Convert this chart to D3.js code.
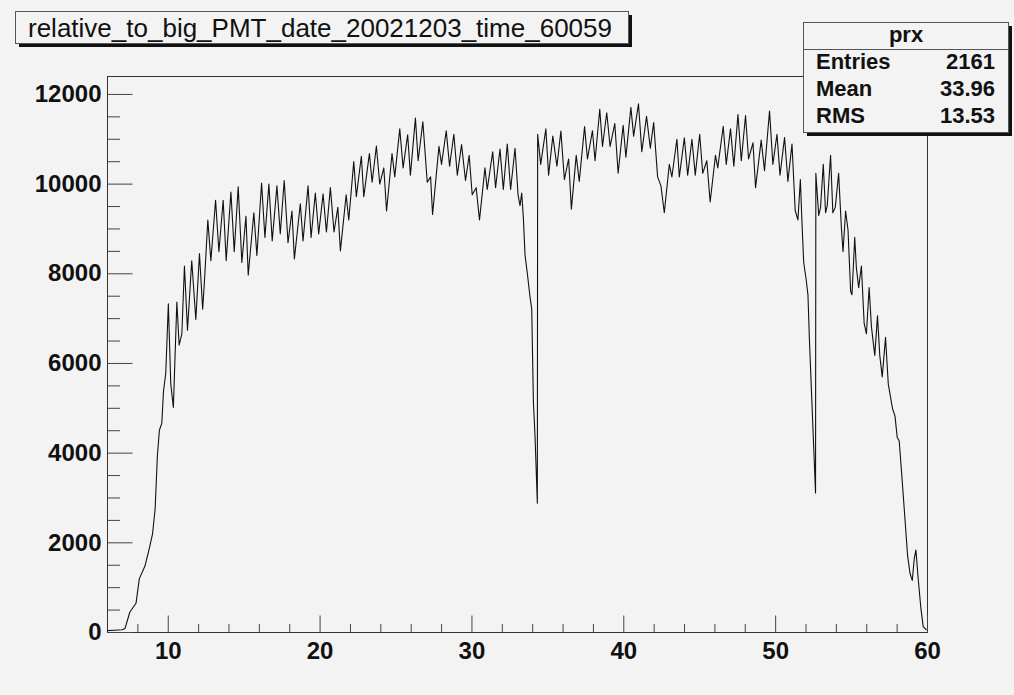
<!DOCTYPE html>
<html>
<head>
<meta charset="utf-8">
<script src="https://cdn.jsdelivr.net/npm/d3@7"></script>
<style>
  body { margin: 0; background: #f3f3f3; }
  svg { display: block; font-family: "Liberation Sans", Arial, sans-serif; }
</style>
</head>
<body>
<svg id="mainSvg" width="1014" height="695"></svg>
<script>
// histogram outline (bin centre, content)
var binX = [6.0, 6.5, 7.0, 7.19, 7.5, 7.91, 8.13, 8.5, 8.79, 9.0, 9.17, 9.32, 9.45, 9.61, 9.72, 9.87,
  10.04, 10.2, 10.37, 10.6, 10.75, 10.93, 11.1, 11.3, 11.58, 11.85, 12.09, 12.3, 12.42, 12.64, 12.84,
  13.15, 13.37, 13.65, 13.85, 14.16, 14.38, 14.64, 14.88, 15.15, 15.3, 15.67, 15.87, 16.18, 16.4,
  16.66, 16.88, 17.19, 17.41, 17.67, 17.92, 18.18, 18.34, 18.73, 18.91, 19.24, 19.44, 19.72, 19.94,
  20.23, 20.45, 20.71, 20.95, 21.2, 21.37, 21.75, 21.92, 22.25, 22.42, 22.75, 22.91, 23.28, 23.46,
  23.74, 23.96, 24.23, 24.41, 24.77, 24.95, 25.28, 25.5, 25.8, 25.98, 26.31, 26.49, 26.8, 27.09,
  27.31, 27.44, 27.86, 28.03, 28.34, 28.56, 28.84, 29.07, 29.35, 29.61, 29.85, 30.05, 30.31, 30.53,
  30.89, 31.04, 31.4, 31.59, 31.88, 32.1, 32.36, 32.58, 32.87, 33.07, 33.2, 33.31, 33.42, 33.53,
  33.68, 33.84, 33.97, 34.08, 34.19, 34.34, 34.36, 34.56, 34.9, 35.08, 35.36, 35.63, 35.89, 36.12,
  36.4, 36.58, 36.9, 37.1, 37.45, 37.64, 37.97, 38.14, 38.45, 38.63, 38.91, 39.13, 39.44, 39.66,
  39.99, 40.17, 40.5, 40.68, 41.0, 41.22, 41.53, 41.78, 42.0, 42.26, 42.48, 42.7, 43.03, 43.2,
  43.53, 43.69, 44.02, 44.24, 44.52, 44.74, 45.03, 45.23, 45.5, 45.72, 46.07, 46.22, 46.58, 46.78,
  47.06, 47.28, 47.55, 47.77, 48.05, 48.25, 48.54, 48.71, 49.08, 49.3, 49.63, 49.85, 50.12, 50.32,
  50.62, 50.84, 51.11, 51.32, 51.5, 51.66, 51.76, 51.88, 52.05, 52.16, 52.26, 52.42, 52.55, 52.66,
  52.68, 52.87, 52.99, 53.17, 53.32, 53.43, 53.65, 53.8, 53.96, 54.18, 54.36, 54.47, 54.64, 54.8,
  54.97, 55.06, 55.24, 55.35, 55.5, 55.68, 55.86, 56.01, 56.19, 56.34, 56.56, 56.74, 56.89, 57.05,
  57.27, 57.45, 57.73, 57.89, 58.04, 58.17, 58.33, 58.5, 58.72, 58.88, 59.03, 59.16, 59.27, 59.43,
  59.6, 59.75, 59.97];
var binY = [30, 40, 50, 80, 440, 640, 1190, 1470, 1870, 2190, 2750, 3940, 4500, 4660, 5370, 5770,
  7320, 5530, 5010, 7360, 6400, 6650, 8160, 6730, 8280, 6970, 8440, 7200, 7840, 9190, 8280,
  9630, 8480, 9630, 8280, 9810, 8480, 9930, 8240, 9270, 7960, 9350, 8400, 10010, 8800,
  9990, 8720, 9950, 8880, 10070, 8680, 9390, 8320, 9550, 8720, 9950, 8800, 9790, 8880,
  9770, 8920, 9910, 8920, 9470, 8500, 9750, 9190, 10490, 9710, 10610, 9710, 10670, 10030,
  10840, 9990, 10350, 9390, 10670, 10150, 11220, 10350, 11090, 10190, 11460, 10510, 11380, 10030,
  10150, 9310, 10830, 10430, 11180, 10390, 11100, 10190, 10870, 10070, 10630, 9750, 9910, 9190,
  10350, 9870, 10710, 9910, 10770, 9870, 10880, 9870, 10790, 9750, 9510, 9790, 9230, 8400,
  8000, 7520, 7200, 5130, 4340, 2870, 11100, 10430, 11220, 10190, 11060, 10390, 11170, 10090,
  10550, 9430, 10630, 10050, 11270, 10550, 11180, 10510, 11660, 10830, 11580, 10830, 11340, 10230,
  11300, 10590, 11700, 11060, 11780, 10710, 11500, 10790, 11360, 10150, 9950, 9350, 10430, 10150,
  10990, 10150, 11020, 10190, 10990, 10190, 11100, 10230, 10510, 9590, 10630, 10350, 11280, 10430,
  11220, 10390, 11540, 10510, 11520, 10550, 10910, 9910, 10970, 10290, 11620, 10430, 11100, 10190,
  11030, 10050, 10880, 9400, 9190, 10090, 9190, 8240, 7840, 7520, 6490, 5130, 4020, 3100,
  10230, 9290, 9470, 10430, 9350, 9510, 10630, 9350, 9470, 10230, 9030, 8480, 9390, 8960,
  7600, 7520, 8800, 8120, 7680, 8160, 6890, 6650, 7680, 6810, 6170, 7050, 6170, 5690,
  6570, 5530, 4980, 4820, 4340, 4260, 3540, 2750, 1710, 1310, 1150, 1630, 1830, 1150,
  520, 120, 40];

var xTicks = [10, 20, 30, 40, 50, 60];
var xMinor = [8, 12, 14, 16, 18, 22, 24, 26, 28, 32, 34, 36, 38, 42, 44, 46, 48, 52, 54, 56, 58];
var yTicks = [0, 2000, 4000, 6000, 8000, 10000, 12000];
var yMinor = [500, 1000, 1500, 2500, 3000, 3500, 4500, 5000, 5500, 6500, 7000, 7500,
  8500, 9000, 9500, 10500, 11000, 11500];

var titleText = "relative_to_big_PMT_date_20021203_time_60059";
var statName = "prx";
var statLabels = ["Entries", "Mean", "RMS"];
var statValues = ["2161", "33.96", "13.53"];

var frame = {left: 107, right: 927, top: 76, bottom: 632};

var svg = d3.select("#mainSvg");
svg.append("rect").attr("width", 1014).attr("height", 695).attr("fill", "#f3f3f3");

var x = d3.scaleLinear().domain([6, 60]).range([frame.left, frame.right]);
var y = d3.scaleLinear().domain([0, 12400]).range([frame.bottom, frame.top]);

// frame
svg.append("rect")
	.attr("x", frame.left + 0.5).attr("y", frame.top + 0.5)
	.attr("width", frame.right - frame.left).attr("height", frame.bottom - frame.top)
	.attr("fill", "none").attr("stroke", "#333").attr("stroke-width", 1);

// y axis, ticks point into the frame
var gy = svg.append("g").attr("transform", "translate(" + (frame.left + 0.5) + ",0)");
gy.call(d3.axisLeft(y).tickValues(yTicks).tickSize(-25).tickPadding(6).tickFormat(d3.format("d")));
gy.append("g").call(d3.axisLeft(y).tickValues(yMinor).tickSize(-12.5).tickFormat(""));
gy.selectAll(".domain").remove();

var gx = svg.append("g").attr("transform", "translate(0," + (frame.bottom + 0.5) + ")");
gx.call(d3.axisBottom(x).tickValues(xTicks).tickSize(-17).tickPadding(9).tickFormat(d3.format("d")));
gx.append("g").call(d3.axisBottom(x).tickValues(xMinor).tickSize(-8.5).tickFormat(""));
gx.selectAll(".domain").remove();

svg.selectAll(".tick line").attr("stroke", "#444");
svg.selectAll(".tick text").attr("fill", "#111")
	.style("font-size", "24px").style("font-weight", "bold")
	.style("font-family", "'Liberation Sans', Arial, sans-serif");

// histogram line
var line = d3.line().x(function(d, i) { return x(binX[i]); }).y(function(d) { return y(d); });
svg.append("path").datum(binY)
	.attr("d", line)
	.attr("fill", "none").attr("stroke", "#111").attr("stroke-width", 1.1)
	.attr("stroke-linejoin", "round");

// title box with shadow
svg.append("rect").attr("x", 19).attr("y", 15).attr("width", 613).attr("height", 32).attr("fill", "#111");
svg.append("rect").attr("x", 15.5).attr("y", 11.5).attr("width", 613).attr("height", 32)
	.attr("fill", "#f3f3f3").attr("stroke", "#555");
svg.append("text").attr("x", 28).attr("y", 36.5).text(titleText)
	.style("font-size", "26px").attr("fill", "#111");

// stats box
svg.append("rect").attr("x", 807).attr("y", 26).attr("width", 205).attr("height", 110).attr("fill", "#111");
svg.append("rect").attr("x", 803.5).attr("y", 22.5).attr("width", 205).attr("height", 110)
	.attr("fill", "#f3f3f3").attr("stroke", "#555");
svg.append("line").attr("x1", 803.5).attr("x2", 1008.5).attr("y1", 49.5).attr("y2", 49.5).attr("stroke", "#555");
svg.append("text").attr("x", 906).attr("y", 42).attr("text-anchor", "middle").text(statName)
	.style("font-size", "22px").style("font-weight", "bold").attr("fill", "#111");
var rows = svg.selectAll(".statrow").data(statLabels).enter().append("g").attr("class", "statrow");
rows.append("text").attr("x", 816).attr("y", function(d, i) { return 69 + i * 27; }).text(function(d) { return d; })
	.style("font-size", "22px").style("font-weight", "bold").attr("fill", "#111");
rows.append("text").attr("x", 995).attr("y", function(d, i) { return 69 + i * 27; })
	.attr("text-anchor", "end").text(function(d, i) { return statValues[i]; })
	.style("font-size", "22px").style("font-weight", "bold").attr("fill", "#111");
</script>
</body>
</html>
